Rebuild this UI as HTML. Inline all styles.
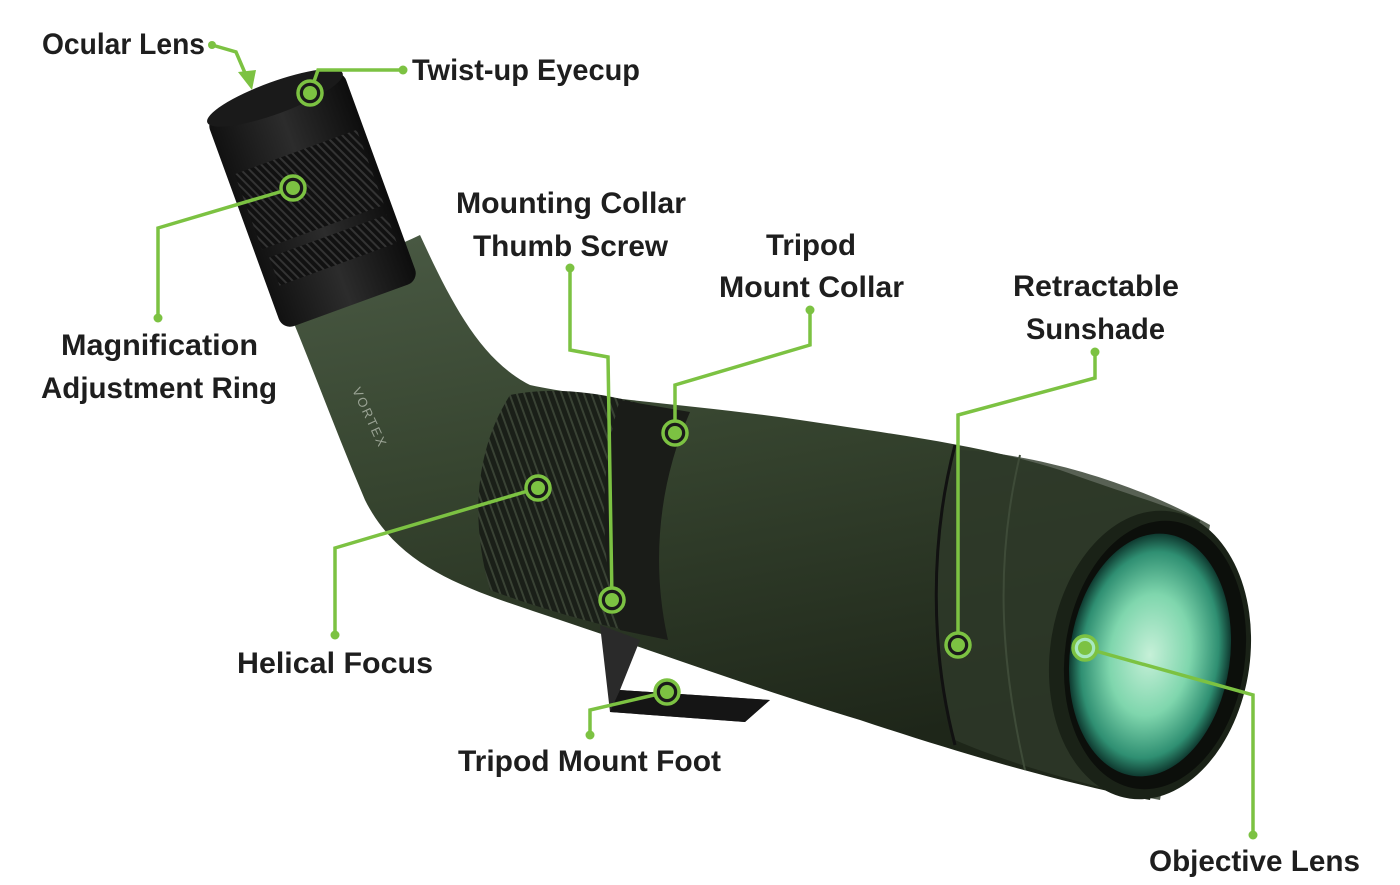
<!DOCTYPE html>
<html><head><meta charset="utf-8"><style>
html,body{margin:0;padding:0;background:#fff;}
svg{display:block;}
text{font-family:"Liberation Sans Narrow","Liberation Sans",sans-serif;font-weight:bold;font-size:30px;fill:#1e1e1e;}
</style></head><body>
<svg width="1400" height="885" viewBox="0 0 1400 885" xmlns="http://www.w3.org/2000/svg">
<defs>
<linearGradient id="gb" x1="0" y1="0" x2="0.3" y2="1">
<stop offset="0" stop-color="#4a5a44"/><stop offset="0.45" stop-color="#36442f"/><stop offset="1" stop-color="#1e2619"/>
</linearGradient>
<linearGradient id="ep" x1="0" y1="0" x2="1" y2="0">
<stop offset="0" stop-color="#111"/><stop offset="0.5" stop-color="#2c2c2c"/><stop offset="1" stop-color="#0d0d0d"/>
</linearGradient>
<radialGradient id="lens" cx="0.5" cy="0.5" r="0.5">
<stop offset="0" stop-color="#c6f0d8"/><stop offset="0.5" stop-color="#7fd6ad"/><stop offset="0.85" stop-color="#2f8f72"/><stop offset="1" stop-color="#0f3a30"/>
</radialGradient>
<pattern id="rib" width="7" height="7" patternUnits="userSpaceOnUse" patternTransform="rotate(-20)">
<rect width="7" height="7" fill="#1a1f18"/><rect width="2" height="7" fill="#394234"/>
</pattern>
<pattern id="rib2" width="6" height="6" patternUnits="userSpaceOnUse" patternTransform="rotate(-25)">
<rect width="6" height="6" fill="#111"/><rect width="2" height="6" fill="#333"/>
</pattern>
</defs>

<path d="M280,290 C330,270 390,250 420,235 C450,300 480,360 530,385 C600,400 700,405 800,420 C900,435 980,445 1060,470 C1130,495 1180,510 1200,520 L1150,800 C1050,780 950,750 860,720 C760,690 650,650 560,620 C470,590 400,570 365,500 C335,430 310,360 280,290 Z" fill="url(#gb)"/>
<path d="M960,450 C1050,455 1150,490 1210,525 L1160,800 C1080,785 1000,760 955,740 C930,650 930,540 960,450 Z" fill="#2e3a29" opacity="0.8"/>
<path d="M955,445 C930,540 930,650 955,745" stroke="#111" stroke-width="3" fill="none"/>
<path d="M1020,455 C995,560 1000,660 1025,770" stroke="#3e4b38" stroke-width="2" fill="none"/>
<ellipse cx="1150" cy="655" rx="100" ry="145" transform="rotate(8 1150 655)" fill="#1a2217"/>
<ellipse cx="1155" cy="655" rx="90" ry="135" transform="rotate(8 1155 655)" fill="#0c0f0b"/>
<ellipse cx="1150" cy="655" rx="80" ry="122" transform="rotate(8 1150 655)" fill="url(#lens)"/>
<path d="M510,395 C560,385 610,395 645,405 C615,480 605,560 625,630 C580,620 530,605 490,590 C470,520 475,450 510,395 Z" fill="url(#rib)"/>
<path d="M620,400 L690,412 C660,480 650,560 668,640 L620,630 C600,560 598,470 620,400 Z" fill="#1a1c18"/>
<path d="M600,625 L640,640 L620,690 L770,700 L745,722 L610,712 Z" fill="#2a2a2a"/>
<path d="M620,690 L770,700 L745,722 L610,712 Z" fill="#151515"/>
<circle cx="612" cy="600" r="14" fill="#222"/>
<g transform="rotate(-20 310 200)">
<rect x="240" y="88" width="145" height="225" rx="12" fill="url(#ep)"/>
<rect x="248" y="150" width="130" height="80" fill="url(#rib2)"/>
<rect x="252" y="240" width="125" height="30" fill="url(#rib2)"/>
<ellipse cx="312" cy="92" rx="72" ry="16" fill="#1a1a1a"/>
</g>
<text x="352" y="390" transform="rotate(65 352 390)" style="font-size:13px;fill:#9aa394;font-weight:normal;letter-spacing:2px">VORTEX</text>

<g stroke="#7cc242" stroke-width="3.5" fill="none">
<polyline points="212,45 236,52 248,80"/>
<polyline points="310,93 318,70 403,70"/>
<polyline points="293,188 158,228 158,318"/>
<polyline points="538,488 335,548 335,635"/>
<polyline points="570,268 570,350 608,357 612,600"/>
<polyline points="675,433 675,385 810,345 810,310"/>
<polyline points="958,645 958,415 1095,378 1095,352"/>
<polyline points="667,692 590,710 590,735"/>
<polyline points="1085,648 1253,695 1253,835"/>
</g>
<polygon points="238,72 256,70 252,90" fill="#7cc242"/>
<g fill="#7cc242">
<circle cx="212" cy="45" r="4"/><circle cx="403" cy="70" r="4.5"/><circle cx="158" cy="318" r="4.5"/>
<circle cx="335" cy="635" r="4.5"/><circle cx="570" cy="268" r="4.5"/><circle cx="810" cy="310" r="4.5"/>
<circle cx="1095" cy="352" r="4.5"/><circle cx="590" cy="735" r="4.5"/><circle cx="1253" cy="835" r="4.5"/>
</g>
<g>
<g transform="translate(310,93)"><circle r="12" fill="#1a1a1a" stroke="#7cc242" stroke-width="3.5"/><circle r="7" fill="#7cc242"/></g>
<g transform="translate(293,188)"><circle r="12" fill="#1a1a1a" stroke="#7cc242" stroke-width="3.5"/><circle r="7" fill="#7cc242"/></g>
<g transform="translate(538,488)"><circle r="12" fill="#1a1a1a" stroke="#7cc242" stroke-width="3.5"/><circle r="7" fill="#7cc242"/></g>
<g transform="translate(612,600)"><circle r="12" fill="#1a1a1a" stroke="#7cc242" stroke-width="3.5"/><circle r="7" fill="#7cc242"/></g>
<g transform="translate(675,433)"><circle r="12" fill="#1a1a1a" stroke="#7cc242" stroke-width="3.5"/><circle r="7" fill="#7cc242"/></g>
<g transform="translate(958,645)"><circle r="12" fill="#1a1a1a" stroke="#7cc242" stroke-width="3.5"/><circle r="7" fill="#7cc242"/></g>
<g transform="translate(667,692)"><circle r="12" fill="#1a1a1a" stroke="#7cc242" stroke-width="3.5"/><circle r="7" fill="#7cc242"/></g>
<g transform="translate(1085,648)"><circle r="12" fill="#a8e8c0" stroke="#7cc242" stroke-width="3.5"/><circle r="7" fill="#7cc242"/></g>
</g>

<text x="42" y="54" textLength="163" lengthAdjust="spacingAndGlyphs">Ocular Lens</text>
<text x="412" y="80" textLength="228" lengthAdjust="spacingAndGlyphs">Twist-up Eyecup</text>
<text x="456" y="213" textLength="230" lengthAdjust="spacingAndGlyphs">Mounting Collar</text>
<text x="473" y="256" textLength="195" lengthAdjust="spacingAndGlyphs">Thumb Screw</text>
<text x="766" y="255" textLength="90" lengthAdjust="spacingAndGlyphs">Tripod</text>
<text x="719" y="297" textLength="185" lengthAdjust="spacingAndGlyphs">Mount Collar</text>
<text x="1013" y="296" textLength="166" lengthAdjust="spacingAndGlyphs">Retractable</text>
<text x="1026" y="339" textLength="139" lengthAdjust="spacingAndGlyphs">Sunshade</text>
<text x="61" y="355" textLength="197" lengthAdjust="spacingAndGlyphs">Magnification</text>
<text x="41" y="398" textLength="236" lengthAdjust="spacingAndGlyphs">Adjustment Ring</text>
<text x="237" y="673" textLength="196" lengthAdjust="spacingAndGlyphs">Helical Focus</text>
<text x="458" y="771" textLength="263" lengthAdjust="spacingAndGlyphs">Tripod Mount Foot</text>
<text x="1149" y="871" textLength="211" lengthAdjust="spacingAndGlyphs">Objective Lens</text>
</svg>
</body></html>
